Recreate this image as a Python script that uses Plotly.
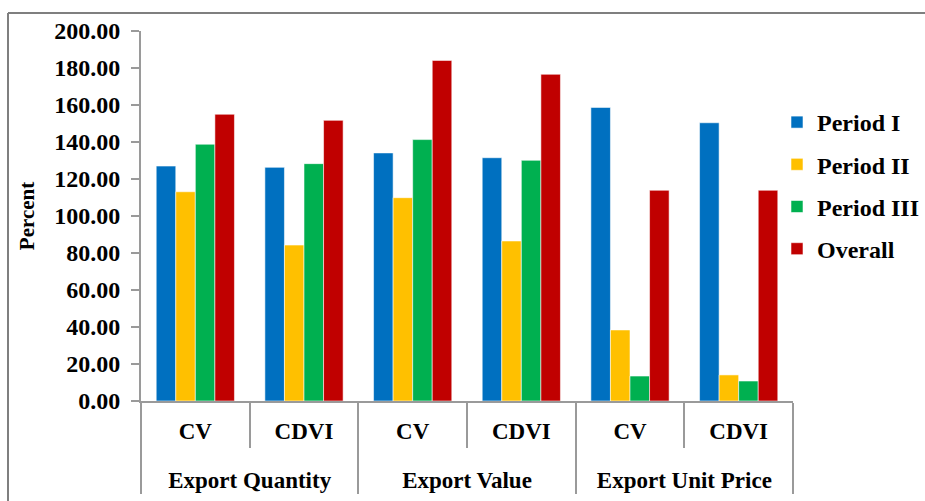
import plotly.graph_objects as go

groups = ["Export Quantity", "Export Quantity", "Export Value", "Export Value",
          "Export Unit Price", "Export Unit Price"]
measures = ["CV", "CDVI", "CV", "CDVI", "CV", "CDVI"]

period_1 = [127.0, 126.3, 134.1, 131.5, 158.7, 150.4]
period_2 = [113.1, 84.3, 109.9, 86.5, 38.4, 14.1]
period_3 = [138.8, 128.3, 141.3, 130.1, 13.5, 10.8]
overall = [155.0, 151.7, 184.1, 176.6, 113.9, 113.9]

series_names = ["Period I", "Period II", "Period III", "Overall"]
series_values = [period_1, period_2, period_3, overall]
colors = ["#0070C0", "#FFC000", "#00B050", "#C00000"]

FONT = "Liberation Serif"

# group labels get a leading line break so they sit lower, as in the reference
group_labels = ["<br>" + g for g in groups]

fig = go.Figure()
for i, (name, vals, col) in enumerate(zip(series_names, series_values, colors)):
    fig.add_trace(go.Bar(
        x=[group_labels, measures], y=vals, name=name,
        marker=dict(color=col, line=dict(color="rgba(255,255,255,0.55)", width=1)),
        legendgroup=f"g{i}",
    ))

L, R, T, B = 141, 132, 31, 100
W, H = 925, 501
pw, ph = W - L - R, H - T - B

def px_x(p):
    return (p - L) / pw

def px_y(p):
    return (H - B - p) / ph

fig.update_layout(
    width=W, height=H,
    margin=dict(l=L, r=R, t=T, b=B, autoexpand=False),
    paper_bgcolor="white", plot_bgcolor="white",
    barmode="group", bargap=0.28, bargroupgap=0,
    font=dict(family=FONT, size=23, color="black", weight="bold"),
    showlegend=True,
    legend=dict(x=px_x(777), y=px_y(100), xanchor="left", yanchor="top",
                font=dict(family=FONT, size=24, color="black", weight="bold"),
                tracegroupgap=8, bgcolor="rgba(0,0,0,0)"),
    yaxis=dict(range=[0, 200], dtick=20, tickformat=".2f", showgrid=False,
               showline=True, linecolor="#9a9a9a", linewidth=2,
               ticks="outside", ticklen=8, tickcolor="#9a9a9a", tickwidth=2,
               ticklabelstandoff=6,
               tickfont=dict(family=FONT, size=24, color="black", weight="bold"),
               title=dict(text="Percent", standoff=14,
                          font=dict(family=FONT, size=21, color="black", weight="bold")),
               zeroline=False, fixedrange=True),
    xaxis=dict(type="multicategory", showline=True, linecolor="#9a9a9a", linewidth=2,
               ticks="outside", tickson="boundaries", ticklen=45, tickcolor="#9a9a9a",
               tickwidth=2, showdividers=True, dividercolor="#9a9a9a", dividerwidth=2,
               ticklabelstandoff=8,
               tickfont=dict(family=FONT, size=23, color="black", weight="bold"),
               showgrid=False, fixedrange=True),
    shapes=[
        dict(type="line", xref="paper", yref="paper",
             x0=px_x(8), x1=px_x(930), y0=px_y(13), y1=px_y(13),
             line=dict(color="#7f7f7f", width=2)),
        dict(type="line", xref="paper", yref="paper",
             x0=px_x(8), x1=px_x(8), y0=px_y(13), y1=px_y(510),
             line=dict(color="#7f7f7f", width=2)),
    ],
)

fig.write_html("out.html")
